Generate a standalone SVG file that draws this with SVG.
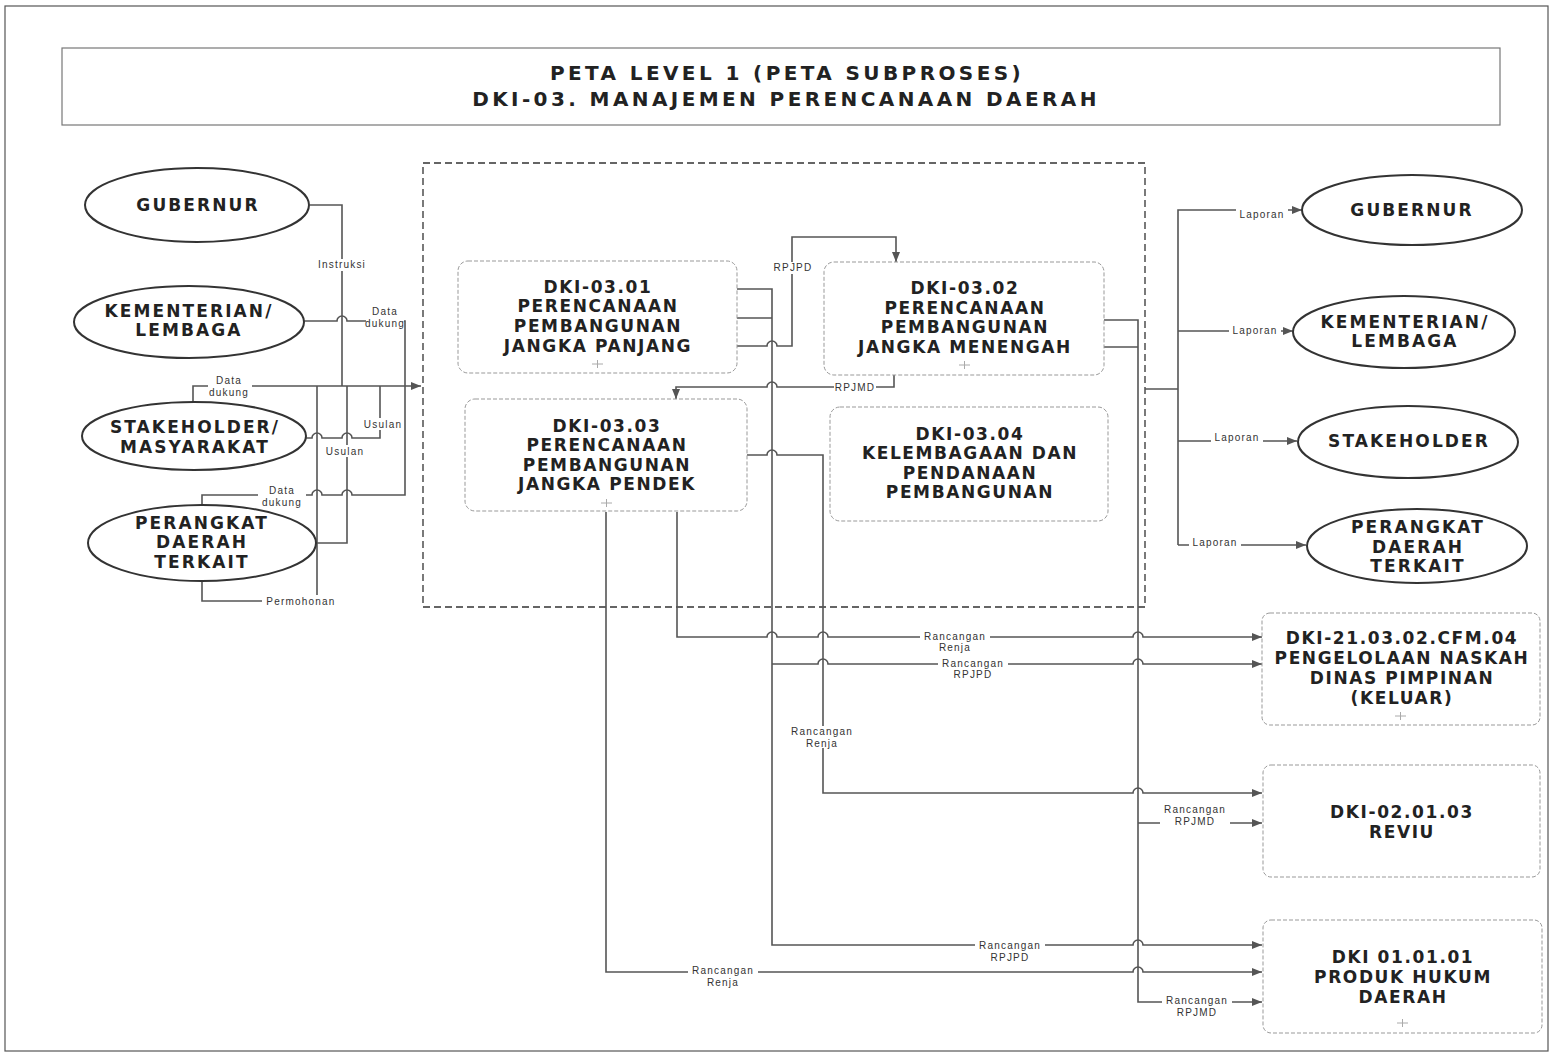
<svg xmlns="http://www.w3.org/2000/svg" width="1553" height="1055" viewBox="0 0 1553 1055">
<style>
.frame{fill:none;stroke:#555;stroke-width:1.2}
.ell{fill:#fff;stroke:#333;stroke-width:2}
.box{fill:#fff;stroke:#999;stroke-width:1;stroke-dasharray:4 2}
.cont{fill:none;stroke:#333;stroke-width:1.3;stroke-dasharray:7 4}
.ln{fill:none;stroke:#555;stroke-width:1.6}
.t{font-family:"DejaVu Sans","Liberation Sans",sans-serif;font-weight:bold;font-size:17px;fill:#222;text-anchor:middle;letter-spacing:1.6px}
.te{font-family:"DejaVu Sans","Liberation Sans",sans-serif;font-weight:bold;font-size:17px;fill:#222;text-anchor:middle;letter-spacing:2.1px}
.ttl{font-family:"DejaVu Sans","Liberation Sans",sans-serif;font-weight:bold;font-size:20px;fill:#222;text-anchor:middle;letter-spacing:3.4px}
.lb{font-family:"Liberation Sans",Arial,sans-serif;font-size:10px;fill:#333;text-anchor:middle;letter-spacing:1.2px}
.bg{fill:#fff}
.pl{stroke:#aaa;stroke-width:1;fill:none}
</style>
<defs>
<marker id="ar" viewBox="0 0 10 8" refX="10" refY="4" markerWidth="10" markerHeight="8" markerUnits="userSpaceOnUse" orient="auto">
<path d="M0,0 L10,4 L0,8 z" fill="#555"/>
</marker>
</defs>
<rect width="1553" height="1055" fill="#fff"/>
<rect class="frame" x="5" y="6" width="1543" height="1045"/>

<g id="title">
<rect x="62" y="48" width="1438" height="77" fill="#fff" stroke="#777" stroke-width="1.2"/>
<text class="ttl" x="787" y="80">PETA LEVEL 1 (PETA SUBPROSES)</text>
<text class="ttl" x="786" y="106">DKI-03. MANAJEMEN PERENCANAAN DAERAH</text>
</g>

<g id="container">
<rect class="cont" x="423" y="163" width="722" height="444"/>
</g>

<g id="connectors">
<path class="ln" d="M310,205 H342 V386"/>
<path class="ln" d="M304,321 H337 a5,5 0 0 1 10,0 H405 V495 H352 a5,5 0 0 0 -10,0 H322 a5,5 0 0 0 -10,0 H202 V508"/>
<path class="ln" d="M193,403 V386 H421" marker-end="url(#ar)"/>
<path class="ln" d="M306,438 H312 a5,5 0 0 1 10,0 H342 a5,5 0 0 1 10,0 H380 V386"/>
<path class="ln" d="M316,543 H347 V386"/>
<path class="ln" d="M202,580 V601 H317 V386"/>
<path class="ln" d="M737,346 H767 a5,5 0 0 1 10,0 H792 V237 H896 V262" marker-end="url(#ar)"/>
<path class="ln" d="M894,375 V387 H777 a5,5 0 0 0 -10,0 H676 V399" marker-end="url(#ar)"/>
<path class="ln" d="M737,289 H772 V945 H1133 a5,5 0 0 1 10,0 H1262" marker-end="url(#ar)"/>
<path class="ln" d="M737,318 H772"/>
<path class="ln" d="M772,664 H818 a5,5 0 0 1 10,0 H1133 a5,5 0 0 1 10,0 H1262" marker-end="url(#ar)"/>
<path class="ln" d="M747,455 H767 a5,5 0 0 1 10,0 H823 V793 H1133 a5,5 0 0 1 10,0 H1262" marker-end="url(#ar)"/>
<path class="ln" d="M677,512 V637 H767 a5,5 0 0 1 10,0 H818 a5,5 0 0 1 10,0 H1133 a5,5 0 0 1 10,0 H1262" marker-end="url(#ar)"/>
<path class="ln" d="M606,512 V972 H1133 a5,5 0 0 1 10,0 H1262" marker-end="url(#ar)"/>
<path class="ln" d="M1104,320 H1138 V1002 H1262" marker-end="url(#ar)"/>
<path class="ln" d="M1104,347 H1138"/>
<path class="ln" d="M1138,823 H1262" marker-end="url(#ar)"/>
<path class="ln" d="M1145,389 H1178"/>
<path class="ln" d="M1178,545 V210 H1302" marker-end="url(#ar)"/>
<path class="ln" d="M1178,331 H1293" marker-end="url(#ar)"/>
<path class="ln" d="M1178,441 H1297" marker-end="url(#ar)"/>
<path class="ln" d="M1178,545 H1306" marker-end="url(#ar)"/>

<rect class="bg" x="318" y="259" width="48" height="12"/>
<text class="lb" x="342" y="268">Instruksi</text>
<rect class="bg" x="366" y="306" width="38" height="24"/>
<text class="lb" x="385" y="315">Data</text>
<text class="lb" x="385" y="327">dukung</text>
<rect class="bg" x="208" y="374" width="44" height="24"/>
<text class="lb" x="229" y="384">Data</text>
<text class="lb" x="229" y="396">dukung</text>
<rect class="bg" x="362" y="418" width="42" height="12"/>
<text class="lb" x="383" y="428">Usulan</text>
<rect class="bg" x="324" y="445" width="42" height="12"/>
<text class="lb" x="345" y="455">Usulan</text>
<rect class="bg" x="258" y="485" width="48" height="24"/>
<text class="lb" x="282" y="494">Data</text>
<text class="lb" x="282" y="506">dukung</text>
<rect class="bg" x="262" y="595" width="80" height="12"/>
<text class="lb" x="301" y="605">Permohonan</text>
<rect class="bg" x="773" y="262" width="40" height="12"/>
<text class="lb" x="793" y="271">RPJPD</text>
<rect class="bg" x="834" y="381" width="42" height="12"/>
<text class="lb" x="855" y="391">RPJMD</text>
<rect class="bg" x="920" y="631" width="70" height="22"/>
<text class="lb" x="955" y="640">Rancangan</text>
<text class="lb" x="955" y="651">Renja</text>
<rect class="bg" x="938" y="658" width="70" height="22"/>
<text class="lb" x="973" y="667">Rancangan</text>
<text class="lb" x="973" y="678">RPJPD</text>
<rect class="bg" x="787" y="726" width="70" height="22"/>
<text class="lb" x="822" y="735">Rancangan</text>
<text class="lb" x="822" y="747">Renja</text>
<rect class="bg" x="1160" y="804" width="70" height="22"/>
<text class="lb" x="1195" y="813">Rancangan</text>
<text class="lb" x="1195" y="825">RPJMD</text>
<rect class="bg" x="975" y="940" width="70" height="22"/>
<text class="lb" x="1010" y="949">Rancangan</text>
<text class="lb" x="1010" y="961">RPJPD</text>
<rect class="bg" x="688" y="966" width="70" height="22"/>
<text class="lb" x="723" y="974">Rancangan</text>
<text class="lb" x="723" y="986">Renja</text>
<rect class="bg" x="1162" y="996" width="70" height="22"/>
<text class="lb" x="1197" y="1004">Rancangan</text>
<text class="lb" x="1197" y="1016">RPJMD</text>
<rect class="bg" x="1236" y="209" width="52" height="12"/>
<text class="lb" x="1262" y="218">Laporan</text>
<rect class="bg" x="1229" y="325" width="52" height="12"/>
<text class="lb" x="1255" y="334">Laporan</text>
<rect class="bg" x="1211" y="432" width="52" height="12"/>
<text class="lb" x="1237" y="441">Laporan</text>
<rect class="bg" x="1189" y="537" width="52" height="12"/>
<text class="lb" x="1215" y="546">Laporan</text>
</g>

<g id="in-gubernur">
<ellipse class="ell" cx="197" cy="205" rx="112" ry="37"/>
<text class="te" x="198" y="211">GUBERNUR</text>
</g>
<g id="in-kementerian">
<ellipse class="ell" cx="189" cy="322" rx="115" ry="36"/>
<text class="te" x="189" y="317">KEMENTERIAN/</text>
<text class="te" x="189" y="336">LEMBAGA</text>
</g>
<g id="in-stakeholder">
<ellipse class="ell" cx="194" cy="436" rx="112" ry="34"/>
<text class="te" x="195" y="433">STAKEHOLDER/</text>
<text class="te" x="195" y="453">MASYARAKAT</text>
</g>
<g id="in-perangkat">
<ellipse class="ell" cx="202" cy="543" rx="114" ry="38"/>
<text class="te" x="202" y="529">PERANGKAT</text>
<text class="te" x="202" y="548">DAERAH</text>
<text class="te" x="202" y="568">TERKAIT</text>
</g>

<g id="dki-03-01">
<rect class="box" x="458" y="261" width="279" height="112" rx="10"/>
<text class="t" x="598" y="293">DKI-03.01</text>
<text class="t" x="598" y="312">PERENCANAAN</text>
<text class="t" x="598" y="332">PEMBANGUNAN</text>
<text class="t" x="598" y="352">JANGKA PANJANG</text>
<path class="pl" d="M592,364 H603 M597.5,360 V368"/>
</g>
<g id="dki-03-02">
<rect class="box" x="824" y="262" width="280" height="113" rx="10"/>
<text class="t" x="965" y="294">DKI-03.02</text>
<text class="t" x="965" y="314">PERENCANAAN</text>
<text class="t" x="965" y="333">PEMBANGUNAN</text>
<text class="t" x="965" y="353">JANGKA MENENGAH</text>
<path class="pl" d="M959,365 H970 M964.5,361 V369"/>
</g>
<g id="dki-03-03">
<rect class="box" x="465" y="399" width="282" height="112" rx="10"/>
<text class="t" x="607" y="432">DKI-03.03</text>
<text class="t" x="607" y="451">PERENCANAAN</text>
<text class="t" x="607" y="471">PEMBANGUNAN</text>
<text class="t" x="607" y="490">JANGKA PENDEK</text>
<path class="pl" d="M601,503 H612 M606.5,499 V507"/>
</g>
<g id="dki-03-04">
<rect class="box" x="830" y="407" width="278" height="114" rx="10"/>
<text class="t" x="970" y="440">DKI-03.04</text>
<text class="t" x="970" y="459">KELEMBAGAAN DAN</text>
<text class="t" x="970" y="479">PENDANAAN</text>
<text class="t" x="970" y="498">PEMBANGUNAN</text>
</g>

<g id="out-gubernur">
<ellipse class="ell" cx="1412" cy="210" rx="110" ry="35"/>
<text class="te" x="1412" y="216">GUBERNUR</text>
</g>
<g id="out-kementerian">
<ellipse class="ell" cx="1404" cy="332" rx="111" ry="36"/>
<text class="te" x="1405" y="328">KEMENTERIAN/</text>
<text class="te" x="1405" y="347">LEMBAGA</text>
</g>
<g id="out-stakeholder">
<ellipse class="ell" cx="1408" cy="442" rx="110" ry="36"/>
<text class="te" x="1409" y="447">STAKEHOLDER</text>
</g>
<g id="out-perangkat">
<ellipse class="ell" cx="1417" cy="546" rx="110" ry="37"/>
<text class="te" x="1418" y="533">PERANGKAT</text>
<text class="te" x="1418" y="553">DAERAH</text>
<text class="te" x="1418" y="572">TERKAIT</text>
</g>

<g id="dki-21-03-02">
<rect class="box" x="1262" y="613" width="278" height="112" rx="8"/>
<text class="t" x="1402" y="644">DKI-21.03.02.CFM.04</text>
<text class="t" x="1402" y="664">PENGELOLAAN NASKAH</text>
<text class="t" x="1402" y="684">DINAS PIMPINAN</text>
<text class="t" x="1402" y="704">(KELUAR)</text>
<path class="pl" d="M1395,716 H1406 M1400.5,712 V720"/>
</g>
<g id="dki-02-01-03">
<rect class="box" x="1263" y="765" width="277" height="112" rx="8"/>
<text class="t" x="1402" y="818">DKI-02.01.03</text>
<text class="t" x="1402" y="838">REVIU</text>
</g>
<g id="dki-01-01-01">
<rect class="box" x="1263" y="920" width="279" height="113" rx="8"/>
<text class="t" x="1403" y="963">DKI 01.01.01</text>
<text class="t" x="1403" y="983">PRODUK HUKUM</text>
<text class="t" x="1403" y="1003">DAERAH</text>
<path class="pl" d="M1397,1023 H1408 M1402.5,1019 V1027"/>
</g>
</svg>
